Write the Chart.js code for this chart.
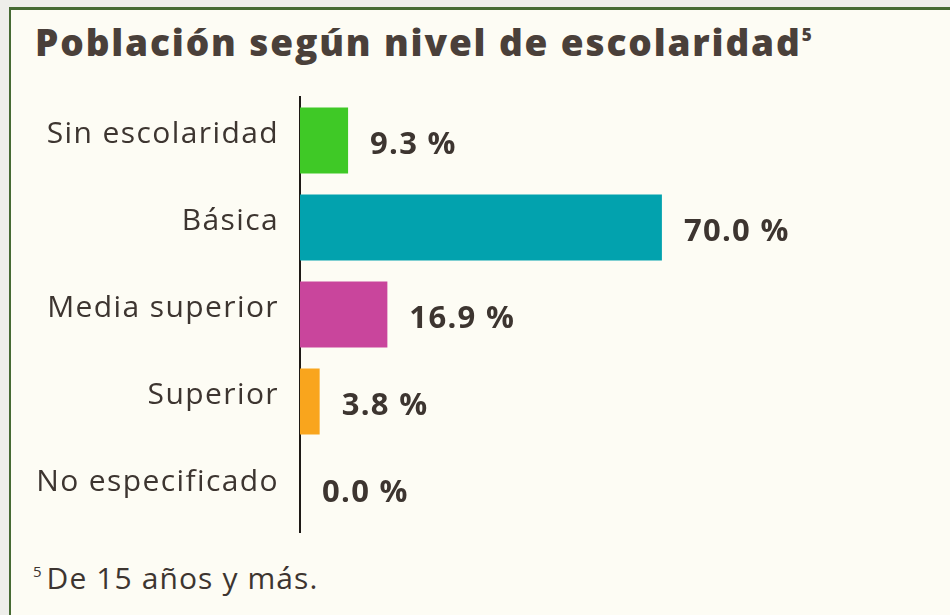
<!DOCTYPE html>
<html lang="es">
<head>
    <meta charset="UTF-8">
    <script src="https://cdn.jsdelivr.net/npm/chart.js@4.4.0/dist/chart.umd.min.js"></script>
    <title>Población según nivel de escolaridad</title>
    <style>
        body { margin: 0; background: #eeeeea; font-family: "Open Sans", sans-serif; }
        #box {
            position: absolute; left: 9px; top: 7px; width: 945px; height: 612px;
            background: #fdfcf4;
            border-top: 3px solid #466a33;
            border-left: 2px solid #466a33;
        }
        #titulo {
            position: absolute; left: 35px; top: 16px; margin: 0;
            font-size: 37px; font-weight: 800; color: #4a403a; letter-spacing: 1.85px;
            white-space: nowrap;
        }
        #titulo sup { font-size: 17px; vertical-align: 15px; letter-spacing: 0; }
        #nota {
            position: absolute; left: 33px; top: 557px;
            font-size: 30px; color: #3d3530; letter-spacing: 1.1px; white-space: nowrap;
        }
        #nota sup { font-size: 15px; vertical-align: 12px; margin-right: 5px; letter-spacing: 0; }
        .canvas-container { position: absolute; left: 0; top: 0; width: 950px; height: 615px; }
    </style>
</head>
<body>
    <div id="box"></div>
    <h1 id="titulo">Población según nivel de escolaridad<sup>5</sup></h1>
    <div id="nota"><sup>5</sup>De 15 años y más.</div>
    <div class="canvas-container">
        <canvas id="myChart" width="950" height="615"></canvas>
    </div>

    <script>
        // datos
        var categorias = ['Sin escolaridad', 'Básica', 'Media superior', 'Superior', 'No especificado'];
        var porcentajes = [9.3, 70.0, 16.9, 3.8, 0.0];
        var colores = ['#3fc926', '#02a2ae', '#c9459c', '#f9a51d', '#999999'];

        var texto = '#3d3530';

        // espaciado de letras para los textos del canvas
        var espaciado = {
            id: 'espaciado',
            beforeDraw: function(chart) {
                chart.ctx.letterSpacing = '1.4px';
            }
        };

        // etiquetas con el valor al final de cada barra
        var etiquetas = {
            id: 'etiquetas',
            afterDatasetsDraw: function(chart) {
                var ctx = chart.ctx;
                var meta = chart.getDatasetMeta(0);
                ctx.save();
                ctx.letterSpacing = '1.3px';
                ctx.font = 'bold 31px "Open Sans", sans-serif';
                ctx.fillStyle = texto;
                ctx.textBaseline = 'alphabetic';
                ctx.textAlign = 'left';
                meta.data.forEach(function(bar, i) {
                    var v = chart.data.datasets[0].data[i];
                    ctx.fillText(v.toFixed(1) + ' %', bar.x + 22, bar.y + 13);
                });
                ctx.restore();
            }
        };

        var ctx = document.getElementById('myChart').getContext('2d');
        var myChart = new Chart(ctx, {
            type: 'bar',
            data: {
                labels: categorias,
                datasets: [{
                    data: porcentajes,
                    backgroundColor: colores,
                    borderWidth: 0,
                    categoryPercentage: 1,
                    barPercentage: 0.76
                }]
            },
            options: {
                indexAxis: 'y',
                responsive: false,
                animation: false,
                layout: { padding: { top: 97, bottom: 83, left: 0, right: 133 } },
                plugins: { legend: { display: false }, tooltip: { enabled: false } },
                scales: {
                    x: { display: false, min: 0, max: 100 },
                    y: {
                        grid: { display: false, drawTicks: false },
                        border: { display: true, color: '#1e1a16', width: 2 },
                        ticks: {
                            padding: 21,
                            labelOffset: -6,
                            color: texto,
                            font: { family: '"Open Sans", sans-serif', size: 30 }
                        },
                        afterFit: function(axis) { axis.width = 300; }
                    }
                }
            },
            plugins: [espaciado, etiquetas]
        });
    </script>
</body>
</html>
